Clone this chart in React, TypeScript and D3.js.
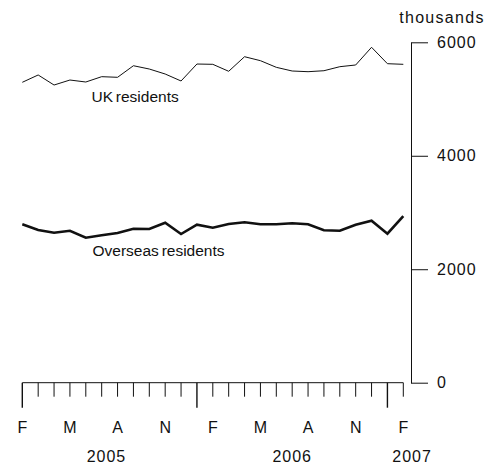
import React, { useEffect, useRef } from 'react';
import * as d3 from 'd3';

// monthly, Feb 2005 .. Feb 2007
const months = d3.range(25);
const ukResidents = [
  5295, 5424, 5247, 5335, 5300, 5394, 5383, 5587, 5529, 5441, 5318, 5617, 5612,
  5489, 5746, 5676, 5559, 5494, 5482, 5499, 5570, 5600, 5912, 5623, 5612,
];
const overseasResidents = [
  2792, 2692, 2644, 2679, 2556, 2598, 2639, 2714, 2709, 2820, 2621, 2785, 2732,
  2797, 2827, 2792, 2792, 2810, 2792, 2686, 2679, 2785, 2855, 2626, 2938,
];
const monthTicks = [0, 3, 6, 9, 12, 15, 18, 21, 24];
const monthLabels = ['F', 'M', 'A', 'N', 'F', 'M', 'A', 'N', 'F'];
const majorTicks = [0, 11, 23];
const yearPos = [5.3, 17, 24.55];
const yearLabels = ['2005', '2006', '2007'];
const yTicks = [0, 2000, 4000, 6000];

const W = 497;
const H = 466;
const FONT = '"Liberation Sans", Arial, sans-serif';

const App: React.FC = () => {
  const svgRef = useRef<SVGSVGElement>(null);

  useEffect(() => {
    if (!svgRef.current) return;
    const svg = d3.select(svgRef.current);
    svg.selectAll('*').remove();

    const x = d3.scaleLinear().domain([0, 24]).range([22.3, 403.3]);
    const y = d3.scaleLinear().domain([0, 6000]).range([382.7, 42.3]);

    const line = d3
      .line<number>()
      .x((_, i) => x(months[i]))
      .y(d => y(d));

    svg.append('path')
      .datum(ukResidents)
      .attr('d', line)
      .attr('fill', 'none')
      .attr('stroke', '#111')
      .attr('stroke-width', 1);

    svg.append('path')
      .datum(overseasResidents)
      .attr('d', line)
      .attr('fill', 'none')
      .attr('stroke', '#111')
      .attr('stroke-width', 2.6)
      .attr('stroke-linejoin', 'miter');

    // right axis
    const yAxis = svg.append('g')
      .attr('transform', 'translate(411,0)')
      .call(d3.axisRight(y).tickValues(yTicks).tickSize(17).tickSizeOuter(0).tickPadding(9).tickFormat(d => String(d)));
    yAxis.select('.domain').attr('stroke', '#111');
    yAxis.selectAll('line').attr('stroke', '#111');
    yAxis.selectAll('text')
      .style('font-family', FONT)
      .style('font-size', '16px')
      .style('letter-spacing', '1px')
      .attr('fill', '#111');

    svg.append('text')
      .attr('x', 442)
      .attr('y', 23)
      .attr('text-anchor', 'middle')
      .style('font-family', FONT)
      .style('font-size', '16px')
      .style('letter-spacing', '1.3px')
      .attr('fill', '#111')
      .text('thousands');

    // bottom axis
    const xg = svg.append('g').attr('transform', `translate(0,${y(0)})`);
    xg.append('line')
      .attr('x1', x(0))
      .attr('x2', x(24))
      .attr('stroke', '#111');
    xg.selectAll('line.tick')
      .data(months)
      .join('line')
      .attr('class', 'tick')
      .attr('x1', d => x(d))
      .attr('x2', d => x(d))
      .attr('y1', 0)
      .attr('y2', d => (majorTicks.includes(d) ? 25 : 14))
      .attr('stroke', '#111')
      .attr('stroke-width', d => (majorTicks.includes(d) ? 1.4 : 1));

    svg.selectAll('text.month')
      .data(monthTicks)
      .join('text')
      .attr('class', 'month')
      .attr('x', d => x(d))
      .attr('y', 432.5)
      .attr('text-anchor', 'middle')
      .style('font-family', FONT)
      .style('font-size', '16px')
      .attr('fill', '#111')
      .text((_, i) => monthLabels[i]);

    svg.selectAll('text.year')
      .data(yearPos)
      .join('text')
      .attr('class', 'year')
      .attr('x', d => x(d))
      .attr('y', 462)
      .attr('text-anchor', 'middle')
      .style('font-family', FONT)
      .style('font-size', '16px')
      .style('letter-spacing', '1px')
      .attr('fill', '#111')
      .text((_, i) => yearLabels[i]);

    // series labels
    svg.append('text')
      .attr('x', 91.5)
      .attr('y', 102.3)
      .style('font-family', FONT)
      .style('font-size', '15.5px')
      .style('word-spacing', '-1.5px')
      .attr('fill', '#111')
      .text('UK residents');

    svg.append('text')
      .attr('x', 92.5)
      .attr('y', 256)
      .style('font-family', FONT)
      .style('font-size', '15.5px')
      .style('word-spacing', '-1.5px')
      .attr('fill', '#111')
      .text('Overseas residents');
  }, []);

  return (
    <div style={{ position: 'absolute', left: 0, top: 0 }}>
      <svg ref={svgRef} width={W} height={H} style={{ display: 'block', background: '#fff' }} />
    </div>
  );
};

export default App;
